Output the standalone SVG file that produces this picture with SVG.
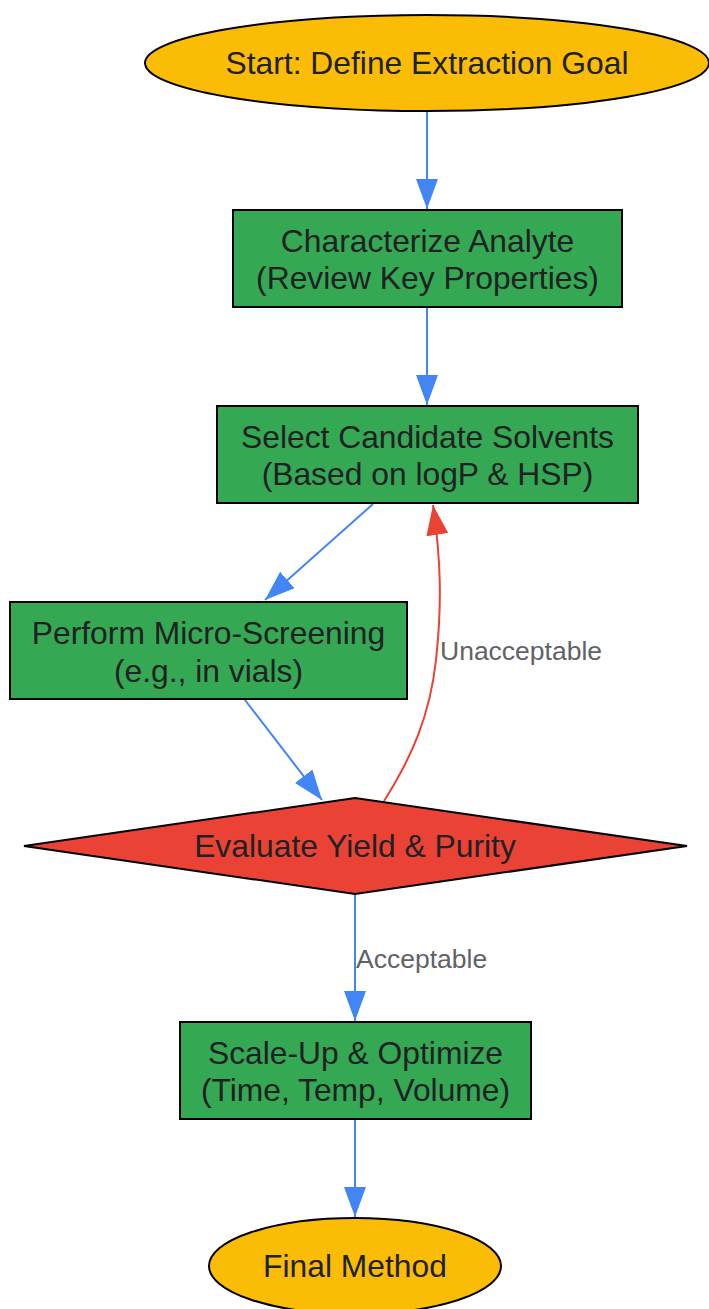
<svg xmlns="http://www.w3.org/2000/svg" width="709" height="1309" viewBox="0 0 709 1309">
<style>
.node text{font-family:"Liberation Sans",Arial,sans-serif;font-size:31.8px;fill:#202124;text-anchor:middle}
.term{fill:#fbbc05;stroke:#000;stroke-width:2}
.proc{fill:#34a853;stroke:#000;stroke-width:2}
.dec{fill:#ea4335;stroke:#000;stroke-width:2}
.e{fill:none;stroke:#4285f4;stroke-width:2}
.er{fill:none;stroke:#ea4335;stroke-width:2}
.lbl{font-family:"Liberation Sans",Arial,sans-serif;font-size:26.5px;fill:#5f6368}
</style>
<defs>
<marker id="ab" markerUnits="userSpaceOnUse" markerWidth="32" markerHeight="24" refX="30" refY="11" orient="auto"><path d="M0,0 L30,11 L0,22 z" fill="#4285f4"/></marker>
<marker id="ar" markerUnits="userSpaceOnUse" markerWidth="32" markerHeight="24" refX="30" refY="11" orient="auto"><path d="M0,0 L30,11 L0,22 z" fill="#ea4335"/></marker>
</defs>
<rect width="709" height="1309" fill="#fff"/>
<g id="connectors">
<path class="e" d="M427,111 L427,209" marker-end="url(#ab)"/>
<path class="e" d="M427,308 L427,405" marker-end="url(#ab)"/>
<path class="e" d="M373,504 L265,600" marker-end="url(#ab)"/>
<path class="e" d="M245,700 L322,800" marker-end="url(#ab)"/>
<path class="er" d="M384,801 C412,757 430,715 436,660 C442,605 441,560 433,505" marker-end="url(#ar)"/>
<text class="lbl" x="440" y="660">Unacceptable</text>
<path class="e" d="M355,894 L355,1021" marker-end="url(#ab)"/>
<text class="lbl" x="356" y="968">Acceptable</text>
<path class="e" d="M355,1120 L355,1217" marker-end="url(#ab)"/>
</g>
<g id="start" class="node">
<ellipse class="term" cx="427" cy="63" rx="282" ry="48"/>
<text x="427" y="74">Start: Define Extraction Goal</text>
</g>
<g id="characterize" class="node">
<rect class="proc" x="233" y="210" width="389" height="97"/>
<text x="427.5" y="252">Characterize Analyte</text>
<text x="427.5" y="289">(Review Key Properties)</text>
</g>
<g id="select" class="node">
<rect class="proc" x="217" y="406" width="421" height="97"/>
<text x="427.5" y="448">Select Candidate Solvents</text>
<text x="427.5" y="485">(Based on logP &amp; HSP)</text>
</g>
<g id="screen" class="node">
<rect class="proc" x="10" y="602" width="397" height="97"/>
<text x="208.5" y="644">Perform Micro-Screening</text>
<text x="208.5" y="682">(e.g., in vials)</text>
</g>
<g id="evaluate" class="node">
<polygon class="dec" points="355,798 687,846 355,894 24,846"/>
<text x="355" y="857">Evaluate Yield &amp; Purity</text>
</g>
<g id="scale" class="node">
<rect class="proc" x="180" y="1022" width="351" height="97"/>
<text x="355.5" y="1064">Scale-Up &amp; Optimize</text>
<text x="355.5" y="1101">(Time, Temp, Volume)</text>
</g>
<g id="final" class="node">
<ellipse class="term" cx="355" cy="1266" rx="146" ry="48"/>
<text x="355" y="1277">Final Method</text>
</g>
</svg>
